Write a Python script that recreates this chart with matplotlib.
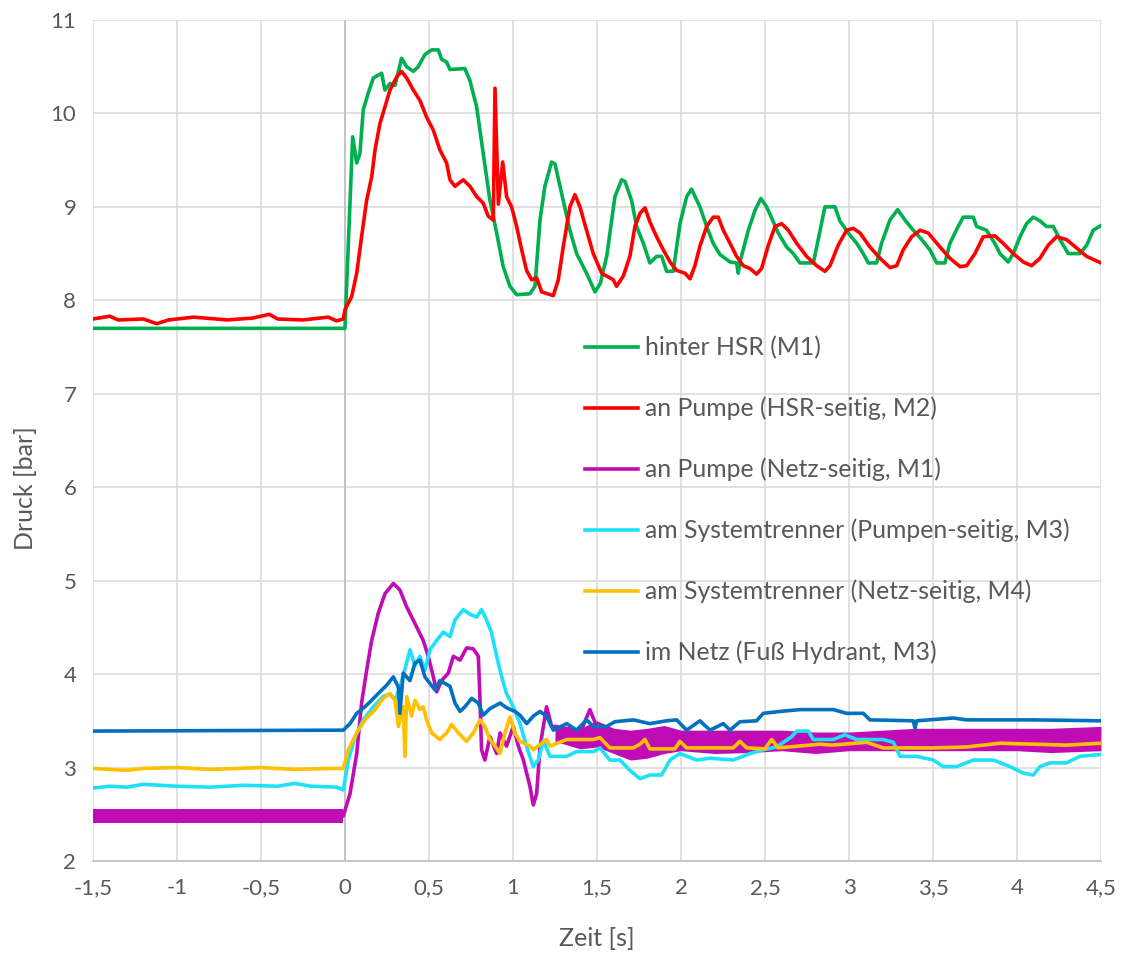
import matplotlib
matplotlib.use("Agg")
import matplotlib.pyplot as plt
from matplotlib.ticker import FuncFormatter

plt.rcParams['font.family'] = ['Lato', 'DejaVu Sans']

# Druckverläufe, Zeit in s, Druck in bar
green_t = [-1.5, -0.02, 0.0, 0.02, 0.046, 0.07, 0.089, 0.109, 0.139, 0.169, 0.218, 0.238, 0.268, 0.298,
           0.337, 0.367, 0.407, 0.436, 0.476, 0.516, 0.556, 0.575, 0.605, 0.625, 0.714, 0.744, 0.784,
           0.823, 0.863, 0.903, 0.942, 0.982, 1.022, 1.101, 1.131, 1.161, 1.190, 1.230, 1.250, 1.299,
           1.339, 1.379, 1.438, 1.488, 1.52, 1.558, 1.607, 1.647, 1.667, 1.706, 1.736, 1.776, 1.815,
           1.855, 1.885, 1.915, 1.954, 1.994, 2.034, 2.063, 2.113, 2.153, 2.192, 2.232, 2.292, 2.331,
           2.341, 2.35, 2.401, 2.44, 2.476, 2.51, 2.55, 2.579, 2.629, 2.669, 2.708, 2.788, 2.817, 2.857,
           2.917, 2.946, 2.996, 3.046, 3.085, 3.115, 3.165, 3.194, 3.244, 3.29, 3.333, 3.383, 3.433,
           3.482, 3.522, 3.571, 3.601, 3.65, 3.68, 3.74, 3.76, 3.819, 3.868, 3.899, 3.948, 3.978, 4.018,
           4.057, 4.097, 4.137, 4.176, 4.216, 4.256, 4.305, 4.375, 4.415, 4.454, 4.5]
green_p = [7.70, 7.70, 7.70, 8.6, 9.75, 9.47, 9.57, 10.04, 10.22, 10.38, 10.43, 10.25, 10.32, 10.30,
           10.59, 10.50, 10.45, 10.50, 10.63, 10.68, 10.68, 10.58, 10.55, 10.47, 10.48, 10.35, 10.07,
           9.57, 9.07, 8.72, 8.36, 8.15, 8.06, 8.07, 8.15, 8.86, 9.22, 9.48, 9.46, 9.07,
           8.75, 8.50, 8.29, 8.09, 8.18, 8.47, 9.11, 9.29, 9.27, 9.07, 8.79, 8.61, 8.40,
           8.47, 8.47, 8.31, 8.31, 8.82, 9.11, 9.19, 9.00, 8.79, 8.61, 8.49, 8.41, 8.40,
           8.29, 8.40, 8.75, 8.96, 9.09, 9.00, 8.84, 8.72, 8.57, 8.50, 8.40, 8.40, 8.65, 9.00,
           9.00, 8.85, 8.72, 8.61, 8.50, 8.40, 8.40, 8.61, 8.86, 8.97, 8.86, 8.75, 8.65,
           8.54, 8.40, 8.40, 8.61, 8.79, 8.89, 8.89, 8.79, 8.75, 8.61, 8.50, 8.41, 8.50, 8.68,
           8.82, 8.89, 8.85, 8.79, 8.79, 8.65, 8.50, 8.50, 8.59, 8.75, 8.80]

red_t = [-1.5, -1.4, -1.35, -1.2, -1.12, -1.05, -0.9, -0.7, -0.55, -0.45, -0.4, -0.25, -0.1, -0.05,
         -0.01, 0.0, 0.04, 0.07, 0.099, 0.129, 0.159, 0.179, 0.208, 0.238, 0.268, 0.308, 0.337, 0.367,
         0.407, 0.446, 0.486, 0.526, 0.565, 0.605, 0.625, 0.655, 0.704, 0.744, 0.784, 0.823, 0.853,
         0.883, 0.893, 0.913, 0.939, 0.962, 0.992, 1.022, 1.052, 1.081, 1.111, 1.141, 1.171, 1.240,
         1.27, 1.299, 1.339, 1.369, 1.399, 1.438, 1.478, 1.528, 1.558, 1.597, 1.617, 1.657, 1.696,
         1.726, 1.756, 1.786, 1.815, 1.855, 1.895, 1.935, 1.974, 2.024, 2.054, 2.083, 2.113, 2.153,
         2.192, 2.222, 2.252, 2.292, 2.331, 2.371, 2.411, 2.450, 2.48, 2.52, 2.56, 2.599, 2.639,
         2.689, 2.748, 2.808, 2.857, 2.887, 2.936, 2.986, 3.026, 3.066, 3.125, 3.185, 3.244, 3.284,
         3.323, 3.373, 3.423, 3.472, 3.542, 3.601, 3.661, 3.700, 3.750, 3.799, 3.868, 3.918, 3.978,
         4.038, 4.087, 4.137, 4.186, 4.236, 4.295, 4.355, 4.415, 4.5]
red_p = [7.80, 7.83, 7.79, 7.80, 7.75, 7.79, 7.82, 7.79, 7.81, 7.85, 7.80, 7.79, 7.82, 7.78,
         7.80, 7.90, 8.04, 8.29, 8.68, 9.07, 9.32, 9.61, 9.89, 10.07, 10.25, 10.39, 10.45, 10.38,
         10.25, 10.14, 9.96, 9.82, 9.61, 9.47, 9.29, 9.22, 9.29, 9.22, 9.11, 9.04, 8.90,
         8.86, 10.27, 9.03, 9.48, 9.11, 9.00, 8.79, 8.54, 8.32, 8.22, 8.24, 8.09, 8.05,
         8.22, 8.57, 9.00, 9.13, 9.00, 8.75, 8.50, 8.29, 8.26, 8.22, 8.15, 8.26, 8.47,
         8.79, 8.93, 8.99, 8.84, 8.68, 8.54, 8.41, 8.32, 8.29, 8.23, 8.37, 8.58, 8.79,
         8.89, 8.89, 8.75, 8.61, 8.47, 8.37, 8.34, 8.28, 8.34, 8.59, 8.79, 8.82, 8.75,
         8.61, 8.47, 8.37, 8.31, 8.37, 8.59, 8.75, 8.77, 8.72, 8.57, 8.45, 8.35, 8.37,
         8.54, 8.68, 8.75, 8.72, 8.57, 8.45, 8.36, 8.37, 8.50, 8.68, 8.69, 8.61, 8.50,
         8.41, 8.37, 8.45, 8.59, 8.68, 8.65, 8.56, 8.47, 8.40]

magenta_t = [-1.5, -0.01, 0.03, 0.07, 0.099, 0.129, 0.159, 0.198, 0.238, 0.288, 0.327, 0.367, 0.417,
             0.466, 0.496, 0.526, 0.546, 0.575, 0.615, 0.645, 0.685, 0.724, 0.764, 0.794, 0.804,
             0.813, 0.833, 0.863, 0.903, 0.923, 0.962, 1.002, 1.032, 1.062, 1.101, 1.121, 1.141,
             1.161, 1.200, 1.230, 1.26, 1.32, 1.379, 1.458, 1.498, 1.577, 4.5]
magenta_p = [2.48, 2.48, 2.72, 3.15, 3.69, 4.04, 4.36, 4.65, 4.86, 4.97, 4.90, 4.72, 4.54,
             4.36, 4.19, 3.97, 3.81, 3.93, 4.01, 4.19, 4.15, 4.28, 4.27, 4.19, 3.72,
             3.19, 3.08, 3.33, 3.15, 3.37, 3.23, 3.44, 3.23, 3.08, 2.80, 2.60, 2.72,
             3.22, 3.65, 3.44, 3.44, 3.26, 3.28, 3.62, 3.44, 3.30, 3.30]
# Streubreite des verrauschten Signals (Netz-seitig)
magenta_band_t = [-1.5, -0.01, None, 1.25, 1.4, 1.5, 1.6, 1.7, 1.8, 1.9, 2.0, 2.2, 2.4, 2.6, 2.8,
                  3.0, 3.2, 3.4, 3.6, 3.8, 4.0, 4.2, 4.5]
magenta_band_lo = [2.41, 2.41, None, 3.28, 3.20, 3.22, 3.15, 3.08, 3.10, 3.15, 3.18, 3.15, 3.16,
                   3.18, 3.15, 3.18, 3.18, 3.18, 3.18, 3.18, 3.18, 3.16, 3.18]
magenta_band_hi = [2.56, 2.56, None, 3.46, 3.42, 3.50, 3.42, 3.40, 3.42, 3.45, 3.40, 3.40, 3.40,
                   3.40, 3.38, 3.38, 3.40, 3.42, 3.42, 3.42, 3.42, 3.42, 3.44]

cyan_t = [-1.5, -1.4, -1.3, -1.2, -1.0, -0.8, -0.6, -0.4, -0.3, -0.2, -0.05, -0.01, 0.02, 0.06,
          0.109, 0.169, 0.228, 0.268, 0.298, 0.327, 0.367, 0.387, 0.417, 0.446, 0.476, 0.506, 0.546,
          0.585, 0.625, 0.655, 0.704, 0.744, 0.784, 0.813, 0.843, 0.873, 0.903, 0.933, 0.962, 1.002,
          1.042, 1.082, 1.121, 1.151, 1.181, 1.220, 1.32, 1.379, 1.478, 1.518, 1.577, 1.637, 1.696,
          1.756, 1.815, 1.885, 1.935, 1.994, 2.093, 2.173, 2.311, 2.411, 2.490, 2.569, 2.659, 2.689,
          2.758, 2.788, 2.907, 2.976, 3.046, 3.204, 3.264, 3.304, 3.403, 3.502, 3.562, 3.641, 3.740,
          3.859, 3.958, 4.038, 4.097, 4.137, 4.196, 4.295, 4.375, 4.5]
cyan_p = [2.78, 2.80, 2.79, 2.82, 2.80, 2.79, 2.81, 2.80, 2.83, 2.80, 2.79, 2.76, 3.08, 3.33,
          3.51, 3.65, 3.76, 3.79, 3.72, 3.86, 4.12, 4.26, 4.09, 4.19, 4.04, 4.26, 4.36,
          4.45, 4.40, 4.58, 4.69, 4.64, 4.61, 4.69, 4.58, 4.44, 4.19, 3.97, 3.79, 3.65,
          3.47, 3.22, 3.01, 3.08, 3.29, 3.12, 3.12, 3.17, 3.17, 3.21, 3.08, 3.08, 2.97,
          2.88, 2.92, 2.92, 3.08, 3.15, 3.08, 3.10, 3.08, 3.15, 3.19, 3.22, 3.33, 3.39,
          3.39, 3.30, 3.30, 3.35, 3.30, 3.30, 3.27, 3.12, 3.12, 3.08, 3.01, 3.01, 3.08,
          3.08, 3.01, 2.94, 2.92, 3.01, 3.05, 3.05, 3.12, 3.14]

yellow_t = [-1.5, -1.3, -1.2, -1.0, -0.8, -0.5, -0.3, -0.1, -0.01, 0.02, 0.07, 0.119, 0.179, 0.228,
            0.268, 0.298, 0.318, 0.347, 0.357, 0.367, 0.397, 0.417, 0.446, 0.466, 0.486, 0.516,
            0.565, 0.605, 0.635, 0.675, 0.724, 0.764, 0.804, 0.833, 0.863, 0.893, 0.923, 0.952,
            0.982, 1.012, 1.042, 1.101, 1.121, 1.2, 1.220, 1.32, 1.478, 1.518, 1.577, 1.716, 1.756,
            1.786, 1.815, 1.964, 1.994, 2.034, 2.311, 2.351, 2.391, 2.50, 2.540, 2.579, 2.827, 2.9,
            3.105, 3.204, 3.502, 3.700, 3.899, 4.097, 4.295, 4.5]
yellow_p = [2.99, 2.97, 2.99, 3.00, 2.98, 3.00, 2.98, 2.99, 2.99, 3.19, 3.37, 3.51, 3.62, 3.74,
            3.79, 3.72, 3.44, 3.65, 3.12, 3.76, 3.55, 3.72, 3.62, 3.65, 3.51, 3.37,
            3.30, 3.37, 3.46, 3.37, 3.28, 3.37, 3.51, 3.44, 3.30, 3.23, 3.15, 3.37,
            3.54, 3.37, 3.28, 3.23, 3.19, 3.30, 3.23, 3.30, 3.30, 3.32, 3.21, 3.21, 3.25,
            3.30, 3.20, 3.20, 3.28, 3.21, 3.21, 3.28, 3.21, 3.20, 3.30, 3.21, 3.25, 3.24,
            3.27, 3.21, 3.21, 3.22, 3.26, 3.25, 3.24, 3.26]

blue_t = [-1.5, -0.01, 0.03, 0.07, 0.119, 0.159, 0.208, 0.248, 0.288, 0.318, 0.327, 0.347, 0.387,
          0.417, 0.446, 0.476, 0.506, 0.536, 0.565, 0.595, 0.625, 0.655, 0.685, 0.714, 0.754, 0.794,
          0.823, 0.863, 0.923, 0.962, 1.012, 1.042, 1.082, 1.121, 1.161, 1.200, 1.240, 1.32, 1.379,
          1.438, 1.478, 1.558, 1.607, 1.716, 1.815, 1.915, 1.974, 2.034, 2.113, 2.173, 2.252, 2.292,
          2.351, 2.450, 2.490, 2.589, 2.708, 2.907, 2.986, 3.085, 3.125, 3.383, 3.393, 3.403, 3.621,
          3.700, 4.097, 4.5]
blue_p = [3.39, 3.40, 3.47, 3.58, 3.65, 3.72, 3.81, 3.88, 3.97, 3.86, 3.58, 4.01, 3.93,
          4.12, 4.15, 3.97, 3.90, 3.83, 3.93, 3.90, 3.87, 3.69, 3.60, 3.65, 3.74, 3.69,
          3.56, 3.63, 3.69, 3.64, 3.60, 3.56, 3.47, 3.55, 3.60, 3.55, 3.40, 3.47, 3.40,
          3.51, 3.44, 3.44, 3.49, 3.51, 3.47, 3.50, 3.51, 3.40, 3.50, 3.40, 3.47, 3.40,
          3.49, 3.50, 3.58, 3.60, 3.62, 3.62, 3.58, 3.58, 3.51, 3.50, 3.42, 3.50, 3.53,
          3.51, 3.51, 3.50]

labels = ['hinter HSR (M1)', 'an Pumpe (HSR-seitig, M2)', 'an Pumpe (Netz-seitig, M1)',
          'am Systemtrenner (Pumpen-seitig, M3)', 'am Systemtrenner (Netz-seitig, M4)',
          'im Netz (Fuß Hydrant, M3)']
colors = ['#00b050', '#ff0000', '#c00cb4', '#1ee0f8', '#ffc000', '#0070c0']

fig = plt.figure(figsize=(11.24, 9.56), dpi=100)
ax = fig.add_axes([0.0827, 0.0994, 0.8968, 0.8797])

lw = 2.6
ax.plot(green_t, green_p, color=colors[0], lw=lw, label=labels[0], zorder=3)
ax.plot(red_t, red_p, color=colors[1], lw=lw, label=labels[1], zorder=4)

# verrauschtes Band: zwei Abschnitte, durch None getrennt
seg = magenta_band_t.index(None)
for a, b in [(0, seg), (seg + 1, len(magenta_band_t))]:
    ax.fill_between(magenta_band_t[a:b], magenta_band_lo[a:b], magenta_band_hi[a:b],
                    color=colors[2], lw=0, zorder=5)
ax.plot(magenta_t, magenta_p, color=colors[2], lw=lw, label=labels[2], zorder=5)
ax.plot(cyan_t, cyan_p, color=colors[3], lw=lw, label=labels[3], zorder=6)
ax.plot(yellow_t, yellow_p, color=colors[4], lw=lw, label=labels[4], zorder=7)
ax.plot(blue_t, blue_p, color=colors[5], lw=lw, label=labels[5], zorder=8)

ax.set_xlim(-1.5, 4.5)
ax.set_ylim(2, 11)
ax.set_xticks([-1.5 + 0.5 * i for i in range(13)])
ax.set_yticks(range(2, 12))
comma = FuncFormatter(lambda v, pos: ('%g' % v).replace('.', ','))
ax.xaxis.set_major_formatter(comma)
ax.yaxis.set_major_formatter(comma)

ax.grid(True, color='#d9d9d9', lw=1.1, zorder=0)
ax.set_axisbelow(True)
ax.axvline(0, color='#bfbfbf', lw=1.2, zorder=1)
for side in ['top', 'right', 'left']:
    ax.spines[side].set_visible(False)
ax.spines['bottom'].set_color('#bfbfbf')
ax.spines['bottom'].set_linewidth(1.2)
ax.tick_params(length=0, labelsize=16, colors='#595959', pad=12)

ax.set_xlabel('Zeit [s]', fontsize=18, color='#595959')
ax.set_ylabel('Druck [bar]', fontsize=18, color='#595959')
ax.xaxis.set_label_coords(0.5, -0.079)
ax.yaxis.set_label_coords(-0.0556, 0.4435)

ax.legend(loc='upper left', bbox_to_anchor=(0.478, 0.6357), frameon=False, fontsize=17.8,
          labelcolor='#595959', handlelength=2.15, handletextpad=0.28, labelspacing=1.51,
          borderaxespad=0)

fig.savefig('out.png', dpi=100)
